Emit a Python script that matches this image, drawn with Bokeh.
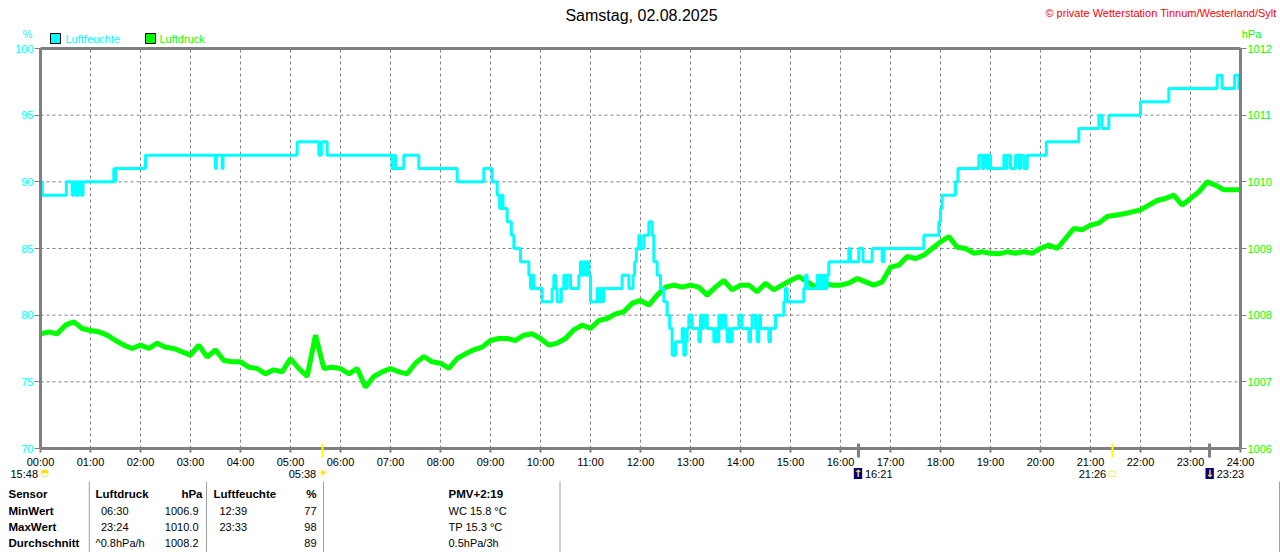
from bokeh.plotting import figure
from bokeh.models import Range1d, LinearAxis, FixedTicker, Label
from bokeh.embed import file_html
from bokeh.resources import INLINE

# ---------------- data ----------------
TITLE = "Samstag, 02.08.2025"
COPYRIGHT = "\u00a9 private Wetterstation Tinnum/Westerland/Sylt"

hour_ticks = [0, 1, 2, 3, 4, 5, 6, 7, 8, 9, 10, 11, 12, 13, 14, 15, 16, 17, 18, 19, 20, 21, 22, 23, 24]
hour_labels = ["00:00", "01:00", "02:00", "03:00", "04:00", "05:00", "06:00", "07:00", "08:00",
               "09:00", "10:00", "11:00", "12:00", "13:00", "14:00", "15:00", "16:00", "17:00",
               "18:00", "19:00", "20:00", "21:00", "22:00", "23:00", "24:00"]
pct_ticks = [70, 75, 80, 85, 90, 95, 100]
hpa_ticks = [1006, 1007, 1008, 1009, 1010, 1011, 1012]

# Luftfeuchte: change points (minute of day, %)
hum_minute = [0, 2, 31, 38, 40, 43, 46, 49, 51, 88, 89, 90, 126, 210, 211, 218, 219, 308, 334, 337,
              344, 422, 424, 426, 436, 454, 500, 532, 542, 548, 551, 553, 555, 560, 565, 568, 576,
              586, 588, 590, 592, 602, 614, 616, 618, 620, 625, 628, 630, 632, 636, 646, 648, 650,
              652, 654, 656, 658, 660, 668, 670, 672, 674, 676, 698, 706, 711, 713, 715, 718, 720,
              724, 730, 734, 736, 740, 744, 748, 752, 755, 758, 762, 770, 772, 774, 776, 778, 782,
              790, 792, 794, 796, 800, 808, 810, 812, 814, 816, 818, 822, 824, 826, 828, 830, 838,
              842, 850, 852, 854, 858, 860, 862, 864, 874, 876, 882, 892, 894, 896, 916, 918, 920,
              932, 934, 936, 938, 940, 942, 944, 946, 970, 972, 982, 987, 998, 1010, 1012, 1060,
              1078, 1080, 1082, 1098, 1101, 1126, 1130, 1132, 1136, 1138, 1140, 1156, 1158, 1160,
              1164, 1170, 1174, 1176, 1180, 1184, 1207, 1246, 1270, 1274, 1282, 1320, 1354, 1412,
              1418, 1433, 1438, 1440]
hum_pct = [90, 89, 90, 89, 90, 89, 90, 89, 90, 91, 90, 91, 92, 91, 92, 91, 92, 93, 92, 93,
           92, 91, 92, 91, 92, 91, 90, 91, 90, 89, 88, 89, 88, 87, 86, 85, 84,
           83, 82, 83, 82, 81, 82, 83, 82, 81, 82, 83, 82, 83, 82, 83, 84, 83,
           84, 83, 84, 83, 81, 82, 81, 82, 81, 82, 83, 82, 83, 84, 85, 86, 85,
           86, 87, 86, 84, 83, 82, 81, 80, 79, 77, 78, 79, 77, 78, 79, 80, 79,
           78, 80, 79, 80, 79, 78, 79, 78, 80, 79, 80, 79, 78, 79, 78, 79, 80,
           79, 78, 79, 80, 79, 78, 80, 79, 78, 79, 80, 81, 82, 81, 82, 83, 82,
           83, 82, 83, 82, 83, 82, 83, 84, 85, 84, 85, 84, 85, 84, 85, 86,
           87, 88, 89, 90, 91, 92, 91, 92, 91, 92, 91, 92, 91, 92,
           91, 92, 91, 92, 91, 92, 93, 94, 95, 94, 95, 96, 97, 98,
           97, 98, 97, 97]

# Luftdruck: one reading every 10 minutes (hPa)
pres_minute = list(range(0, 1441, 10))
pres_hpa = [1007.72, 1007.75, 1007.72, 1007.85, 1007.90, 1007.80,
            1007.77, 1007.75, 1007.70, 1007.62, 1007.55, 1007.50,
            1007.55, 1007.50, 1007.58, 1007.52, 1007.50, 1007.45,
            1007.40, 1007.55, 1007.37, 1007.48, 1007.32, 1007.30,
            1007.30, 1007.22, 1007.20, 1007.12, 1007.18, 1007.15,
            1007.35, 1007.20, 1007.08, 1007.70, 1007.20, 1007.22,
            1007.20, 1007.12, 1007.20, 1006.92, 1007.08, 1007.15,
            1007.20, 1007.15, 1007.12, 1007.28, 1007.38, 1007.30,
            1007.28, 1007.20, 1007.35, 1007.42, 1007.48, 1007.52,
            1007.62, 1007.65, 1007.65, 1007.62, 1007.70, 1007.72,
            1007.65, 1007.55, 1007.58, 1007.65, 1007.78, 1007.85,
            1007.80, 1007.92, 1007.95, 1008.02, 1008.05, 1008.18,
            1008.22, 1008.15, 1008.30, 1008.42, 1008.45, 1008.42,
            1008.45, 1008.42, 1008.30, 1008.42, 1008.52, 1008.38,
            1008.45, 1008.45, 1008.35, 1008.48, 1008.38, 1008.45,
            1008.52, 1008.58, 1008.50, 1008.42, 1008.48, 1008.45,
            1008.45, 1008.48, 1008.55, 1008.50, 1008.45, 1008.50,
            1008.72, 1008.75, 1008.88, 1008.85, 1008.90, 1009.00,
            1009.10, 1009.18, 1009.02, 1009.00, 1008.93, 1008.95,
            1008.93, 1008.92, 1008.95, 1008.93, 1008.95, 1008.93,
            1009.00, 1009.05, 1009.00, 1009.15, 1009.30, 1009.28,
            1009.35, 1009.38, 1009.48, 1009.50, 1009.52, 1009.55,
            1009.58, 1009.65, 1009.72, 1009.75, 1009.80, 1009.65,
            1009.75, 1009.85, 1010.00, 1009.95, 1009.88, 1009.88,
            1009.88]

# astronomical events under the time axis
sun_times = ["05:38", "21:26"]
moon_times = ["16:21", "23:23"]
prev_event = "15:48"

# statistics table
table_head = ["Sensor", "Luftdruck", "hPa", "Luftfeuchte", "%", "PMV+2:19"]
row_names = ["MinWert", "MaxWert", "Durchschnitt"]
pres_time = ["06:30", "23:24", "^0.8hPa/h"]
pres_stat = ["1006.9", "1010.0", "1008.2"]
hum_time = ["12:39", "23:33", ""]
hum_stat = ["77", "98", "89"]
extra_info = ["WC 15.8 \u00b0C", "TP 15.3 \u00b0C", "0.5hPa/3h"]

# ---------------- styling / layout ----------------
CYAN = "#00FFFF"
GREEN = "#00FF00"
GRAY = "#808080"
FONT = "Liberation Sans"
W, H = 1280, 552
# chart area in page pixels
FX0, FX1, FY0, FY1 = 40, 1240, 48, 448
X_MIN, X_MAX = 0, 24
Y_MIN, Y_MAX = 70, 100
P_MIN, P_MAX = 1006, 1012

xs_per_px = (X_MAX - X_MIN) / (FX1 - FX0)
ys_per_px = (Y_MAX - Y_MIN) / (FY1 - FY0)
ps_per_px = (P_MAX - P_MIN) / (FY1 - FY0)


def hm(s):
    h, m = s.split(":")
    return int(h) + int(m) / 60.0


def px_x(px):
    return X_MIN + (px - FX0) * xs_per_px


def px_y(py):
    return Y_MIN + (FY1 - py) * ys_per_px


p = figure(width=W, height=H,
           x_range=Range1d(px_x(0), px_x(W)), y_range=Range1d(px_y(H), px_y(0)),
           x_axis_type=None, y_axis_type=None, output_backend="svg", toolbar_location=None,
           min_border=0, min_border_left=0, min_border_right=0, min_border_top=0, min_border_bottom=0,
           background_fill_color="white", border_fill_color="white")
p.outline_line_color = None
p.extra_y_ranges = {"hpa": Range1d(P_MIN - (H - FY1) * ps_per_px, P_MAX + FY0 * ps_per_px)}

# dashed grid
p.segment(x0=hour_ticks[1:-1], y0=Y_MIN, x1=hour_ticks[1:-1], y1=Y_MAX,
          line_color=GRAY, line_width=1, line_dash="3 3")
p.segment(x0=X_MIN, y0=pct_ticks[1:-1], x1=X_MAX, y1=pct_ticks[1:-1],
          line_color=GRAY, line_width=1, line_dash="3 3")

# series
pres_h = [m / 60.0 for m in pres_minute]
hum_h = [m / 60.0 for m in hum_minute]
p.line(x=pres_h, y=pres_hpa, y_range_name="hpa", line_color=GREEN, line_width=5)
p.step(x=hum_h, y=hum_pct, mode="after", line_color=CYAN, line_width=3)


def style_axis(ax, label_color, size="11px", tick_out=6, standoff=1):
    ax.axis_line_color = GRAY
    ax.axis_line_width = 3
    ax.major_tick_line_color = GRAY
    ax.major_tick_line_width = 1
    ax.major_tick_out = tick_out
    ax.major_tick_in = 0
    ax.minor_tick_line_color = None
    ax.major_label_standoff = standoff
    ax.major_label_text_font = FONT
    ax.major_label_text_font_size = size
    ax.major_label_text_color = label_color


# time axis
ax_b = LinearAxis(ticker=FixedTicker(ticks=hour_ticks), fixed_location=Y_MIN, bounds=(X_MIN, X_MAX))
style_axis(ax_b, "black", tick_out=4, standoff=3)
ax_b.major_tick_line_width = 2
ax_b.major_label_overrides = {t: lab for t, lab in zip(hour_ticks, hour_labels)}
p.add_layout(ax_b, "below")

# top border
ax_t = LinearAxis(ticker=FixedTicker(ticks=[]), fixed_location=Y_MAX, bounds=(X_MIN, X_MAX))
style_axis(ax_t, None)
ax_t.major_label_text_alpha = 0
p.add_layout(ax_t, "above")

# humidity axis (left)
ax_l = LinearAxis(ticker=FixedTicker(ticks=pct_ticks), fixed_location=X_MIN, bounds=(Y_MIN, Y_MAX))
style_axis(ax_l, CYAN)
p.add_layout(ax_l, "left")

# pressure axis (right)
ax_r = LinearAxis(y_range_name="hpa", ticker=FixedTicker(ticks=hpa_ticks), fixed_location=X_MAX,
                  bounds=(P_MIN, P_MAX))
style_axis(ax_r, GREEN)
p.add_layout(ax_r, "right")

# event tick marks crossing the time axis
for times, color, width in ((sun_times, "#FFFF00", 2), (moon_times, GRAY, 3)):
    ev = LinearAxis(ticker=FixedTicker(ticks=[hm(t) for t in times]), fixed_location=Y_MIN,
                    bounds=(X_MIN, X_MAX))
    ev.axis_line_color = None
    ev.major_tick_line_color = color
    ev.major_tick_line_width = width
    ev.major_tick_in = 5
    ev.major_tick_out = 9
    ev.minor_tick_line_color = None
    ev.major_label_text_alpha = 0
    p.add_layout(ev, "below")


def add_text(px, py, text, color="black", size="11px", align="left", bold=False, font=FONT, **kw):
    p.add_layout(Label(x=px_x(px), y=px_y(py), text=text, text_color=color, text_font=font,
                       text_font_size=size, text_align=align, text_baseline="middle",
                       text_font_style="bold" if bold else "normal", **kw))


# header
add_text(641, 15, TITLE, size="16px", align="center")
add_text(1276, 12, COPYRIGHT, color="#FF0000", size="11px", align="right")
add_text(27, 33, "%", color=CYAN, size="11px", align="center")
add_text(1251, 33, "hPa", color=GREEN, size="11px", align="center")

# legend
p.quad(left=[px_x(50)], right=[px_x(60)], top=[px_y(33)], bottom=[px_y(43)],
       fill_color=CYAN, line_color="black", line_width=1)
add_text(65, 38, "Luftfeuchte", color=CYAN)
p.quad(left=[px_x(145)], right=[px_x(155)], top=[px_y(33)], bottom=[px_y(43)],
       fill_color=GREEN, line_color="black", line_width=1)
add_text(159, 38, "Luftdruck", color=GREEN)

# astronomical markers
add_text(37.5, 473, prev_event, align="right")
add_text(44.5, 472, "\u25d3", color="#FFE000", size="10px", align="center", font="DejaVu Sans")
for i, t in enumerate(sun_times):
    xpx = FX0 + hm(t) / xs_per_px
    add_text(xpx - 6, 473, t, align="right")
    if i == 0:
        add_text(xpx + 1, 472, "\u2600", color="#FFE000", size="12px", align="center", font="DejaVu Sans")
    else:
        add_text(xpx, 473, "\u25a1", color="#FFE000", size="8px", align="center", font="DejaVu Sans")
for i, t in enumerate(moon_times):
    xpx = FX0 + hm(t) / xs_per_px
    arrow = "\u2191" if i == 0 else "\u2193"
    add_text(xpx, 473, arrow, color="#FFFF00", size="10px", align="center", bold=True,
             font="DejaVu Sans", background_fill_color="#000080", background_fill_alpha=1)
    add_text(xpx + 7, 473, t, align="left")

# table separators
sep_px = [88.8, 206, 323, 559.5, 1279]
p.segment(x0=[px_x(s) for s in sep_px], y0=px_y(481), x1=[px_x(s) for s in sep_px], y1=px_y(552),
          line_color="#A0A0A0", line_width=1)

# table
rows_y = [493, 510, 526, 542]
add_text(8, rows_y[0], table_head[0], bold=True, size="11.5px")
add_text(95, rows_y[0], table_head[1], bold=True, size="11.5px")
add_text(202, rows_y[0], table_head[2], bold=True, size="11.5px", align="right")
add_text(213, rows_y[0], table_head[3], bold=True, size="11.5px")
add_text(316, rows_y[0], table_head[4], bold=True, size="11.5px", align="right")
add_text(448, rows_y[0], table_head[5], bold=True, size="11.5px")
for i in range(3):
    y = rows_y[i + 1]
    add_text(8, y, row_names[i], bold=True, size="11.5px")
    add_text(100.5 if i < 2 else 95, y, pres_time[i])
    add_text(198, y, pres_stat[i], align="right")
    if hum_time[i]:
        add_text(219, y, hum_time[i])
    add_text(316, y, hum_stat[i], align="right")
    add_text(448, y, extra_info[i])

open("out.html", "w").write(file_html(p, INLINE))
